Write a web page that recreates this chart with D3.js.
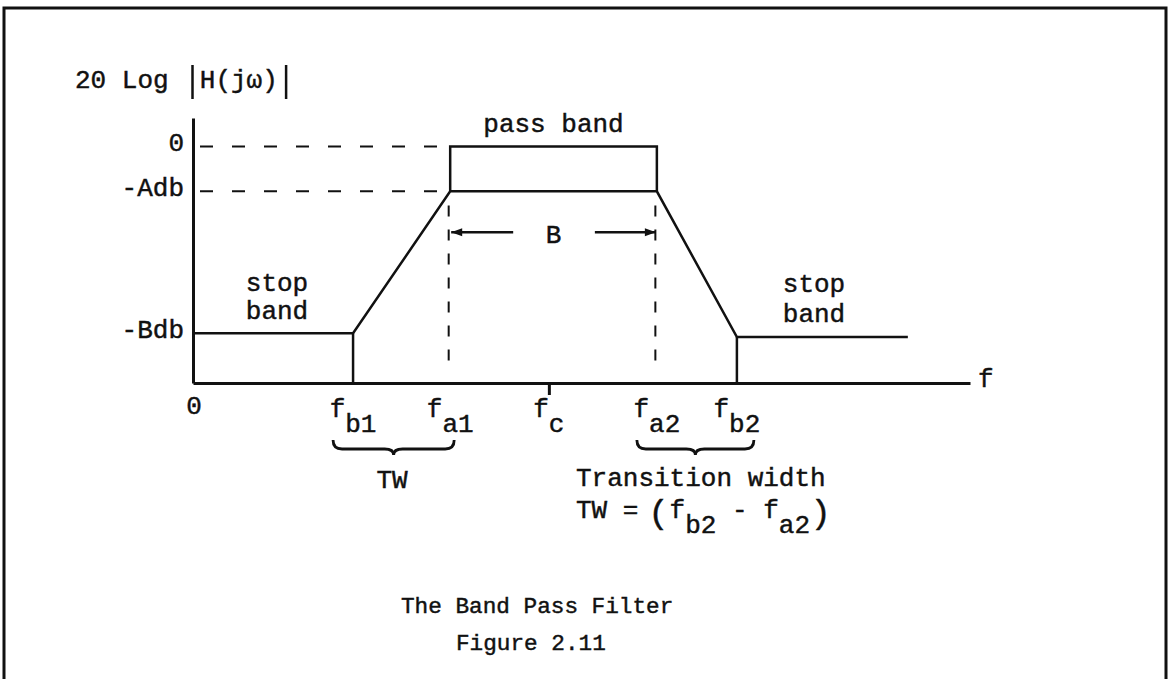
<!DOCTYPE html>
<html>
<head>
<meta charset="utf-8">
<script src="https://cdn.jsdelivr.net/npm/d3@7"></script>
<style>
  body { margin: 0; background: #fff; }
  text { font-family: 'Liberation Mono', 'DejaVu Sans Mono', monospace; fill: #111; stroke: #111; stroke-width: 0.45px; }
</style>
</head>
<body>
<svg id="svg" width="1169" height="679"></svg>
<script>
const $svg = d3.select('#svg')

// band edges along f (arbitrary units)
const edgeNames = ['b1', 'a1', 'c', 'a2', 'b2']
const edgeFreqs = [20.6, 33.1, 45.8, 59.7, 70.0]
const fMax = 100
const stopEnd = 92

// gain levels in dB (arbitrary scale)
const levelLabels = ['0', '-Adb', '-Bdb']
const levelValues = [0, -9.5, -39.5]
const rightStopDb = -40.3
const dbMin = -50
const dbMax = 6

const FONT = 26
const ADV = FONT * 0.6
const INK = '#111'

const x = d3.scaleLinear().domain([0, fMax]).range([193, 970])
const y = d3.scaleLinear().domain([dbMin, dbMax]).range([383, 118])

const [fb1, fa1, fc, fa2, fb2] = edgeFreqs
const [dbPass, dbA, dbB] = levelValues

const response = [
	{ f: 0, db: dbB },
	{ f: fb1, db: dbB },
	{ f: fa1, db: dbA },
	{ f: fa2, db: dbA },
	{ f: fb2, db: rightStopDb },
	{ f: stopEnd, db: rightStopDb },
]
const passTop = [
	{ f: fa1, db: dbA },
	{ f: fa1, db: dbPass },
	{ f: fa2, db: dbPass },
	{ f: fa2, db: dbA },
]

const generateLine = d3.line()
	.x(d => x(d.f))
	.y(d => y(d.db))

const drawPath = (d, width = 2.5, dash = null) => {
	return $svg.append('path')
		.attr('d', d)
		.attr('fill', 'none')
		.attr('stroke', INK)
		.attr('stroke-width', width)
		.attr('stroke-dasharray', dash)
}

// frame (open at the bottom)
drawPath('M4,700 L4,8 L1166,8 L1166,700', 3)

// axes
const yAxis = d3.axisLeft(y)
	.tickValues(levelValues)
	.tickFormat((d, i) => levelLabels[i])
	.tickSize(0)
	.tickPadding(9)
const $yAxis = $svg.append('g')
	.attr('transform', `translate(${x(0)},0)`)
	.call(yAxis)

const xAxis = d3.axisBottom(x)
	.tickValues([fc])
	.tickFormat('')
	.tickSizeInner(12)
	.tickSizeOuter(0)
$svg.append('g')
	.attr('transform', `translate(0,${y(dbMin)})`)
	.call(xAxis)

$svg.selectAll('.domain, .tick line')
	.attr('stroke', INK)
	.attr('stroke-width', 3)
$yAxis.selectAll('text')
	.attr('font-size', FONT)
	.attr('font-family', 'Liberation Mono')
	.attr('dy', '0.15em')
	.attr('fill', INK)

// dashed guide lines
levelValues.slice(0, 2).forEach(db => {
	drawPath(`M${x(0) + 7},${y(db)} L${x(fa1)},${y(db)}`, 2, '13 19')
})
;[fa1, fa2].forEach(f => {
	drawPath(`M${x(f) - 1.5},${y(-12.5)} L${x(f) - 1.5},${y(-48)}`, 2, '11 13')
})

// filter response
drawPath(generateLine(response), 2.5)
drawPath(generateLine(passTop), 2.5)
;[[fb1, dbB], [fb2, rightStopDb]].forEach(([f, db]) => {
	drawPath(generateLine([{ f, db }, { f, db: dbMin }]), 2.5)
})

// B arrows
const arrowY = y(dbA) + 41
const arrow = (from, to) => {
	drawPath(`M${from},${arrowY} L${to},${arrowY}`, 2.5)
	const dir = to > from ? -1 : 1
	$svg.append('path')
		.attr('d', `M${to},${arrowY} L${to + dir * 11},${arrowY - 4} L${to + dir * 11},${arrowY + 4} Z`)
		.attr('fill', INK)
}
arrow(x(fa1) + 63, x(fa1) + 1)
arrow(x(fa2) - 62, x(fa2) - 1)

const label = (txt, px, py, anchor = 'start', size = FONT) => {
	return $svg.append('text')
		.attr('x', px)
		.attr('y', py)
		.attr('font-size', size)
		.attr('text-anchor', anchor)
		.text(txt)
}

label('B', (x(fa1) + x(fa2)) / 2, arrowY + 3.5, 'middle').attr('dominant-baseline', 'middle')
label('pass band', (x(fa1) + x(fa2)) / 2, 132, 'middle')
label('stop', 277, 291, 'middle')
label('band', 277, 319, 'middle')
label('stop', 814, 292, 'middle')
label('band', 814, 322, 'middle')

// y title: 20 Log |H(jw)|
const titleX = 75
label('20 Log', titleX, 88)
label('H(jω)', titleX + 8 * ADV, 88)
;[7, 13].forEach(i => {
	const bx = titleX + (i + 0.5) * ADV + 0.5
	drawPath(`M${bx},65 L${bx},99`, 2.5)
})

// x labels
label('0', x(0) + 1, 414, 'middle')
label('f', 978, 387)
edgeNames.forEach((name, i) => {
	const $t = $svg.append('text')
		.attr('x', x(edgeFreqs[i]))
		.attr('y', 417)
		.attr('font-size', FONT)
		.attr('text-anchor', 'middle')
	$t.append('tspan').text('f')
	$t.append('tspan').attr('dy', 15).text(name)
})

// braces under the transition bands
const brace = (x0, x1) => {
	const xm = (x0 + x1) / 2
	const y0 = 440, y1 = 449, y2 = 455, r = 9
	drawPath(
		`M${x0},${y0} Q${x0},${y1} ${x0 + r},${y1} L${xm - r},${y1} Q${xm},${y1} ${xm},${y2} ` +
		`Q${xm},${y1} ${xm + r},${y1} L${x1 - r},${y1} Q${x1},${y1} ${x1},${y0}`,
		2.8
	)
}
brace(x(fb1) - 20, x(fa1) + 4)
brace(x(fa2) - 20, x(fb2) + 17)

label('TW', 392, 488, 'middle')
label('Transition width', 576, 486)

// TW = (f_b2 - f_a2)
const eqX = 576
const eqY = 518
const sub = 15
label('TW =', eqX, eqY)
label('(', eqX + 6 * ADV - 1, 523, 'end', 34)
label('f', eqX + 6 * ADV, eqY)
label('b2', eqX + 7 * ADV, eqY + sub)
label('-', eqX + 10 * ADV, eqY)
label('f', eqX + 12 * ADV, eqY)
label('a2', eqX + 13 * ADV, eqY + sub)
label(')', eqX + 15 * ADV + 0.5, 523, 'start', 34)

// captions
label('The Band Pass Filter', 401, 613, 'start', 22.7)
label('Figure 2.11', 456, 650, 'start', 22.7)
</script>
</body>
</html>
